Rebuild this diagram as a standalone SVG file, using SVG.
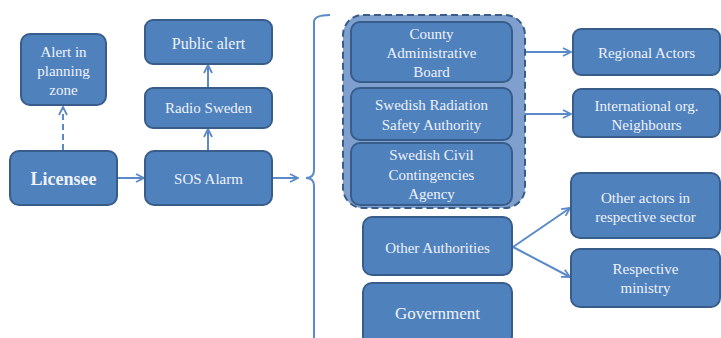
<svg xmlns="http://www.w3.org/2000/svg" width="721" height="338" viewBox="0 0 721 338">
<style>
.box{fill:#4f81bd;stroke:#385d8a;stroke-width:2}
.t{font-family:'Liberation Serif','Times New Roman','DejaVu Serif',serif;font-size:15px;fill:#eef2f9;text-anchor:middle;dominant-baseline:central}
.c{fill:none;stroke:#5b8ac8;stroke-width:2}
</style>
<defs>
<marker id="ah" viewBox="0 0 10 10" refX="9" refY="5" markerWidth="10" markerHeight="10" markerUnits="userSpaceOnUse" orient="auto">
<path d="M1,1 L9,5 L1,9" fill="none" stroke="#5b8ac8" stroke-width="1.8"/>
</marker>
</defs>
<rect width="721" height="338" fill="#fff"/>
<g id="connectors">
<line class="c" x1="63" y1="150" x2="63" y2="107" stroke-dasharray="6,4" marker-end="url(#ah)"/>
<line class="c" x1="117" y1="178" x2="144" y2="178" marker-end="url(#ah)"/>
<line class="c" x1="208" y1="151" x2="208" y2="129" marker-end="url(#ah)"/>
<line class="c" x1="208" y1="88" x2="208" y2="65" marker-end="url(#ah)"/>
<line class="c" x1="272" y1="178" x2="298" y2="178" marker-end="url(#ah)"/>
<path class="c" d="M330,15 Q314,15 314,22 L314,170 Q314,178 306,178 Q314,178 314,186 L314,338"/>
<line class="c" x1="512" y1="52" x2="571" y2="52" marker-end="url(#ah)"/>
<line class="c" x1="512" y1="114" x2="571" y2="114" marker-end="url(#ah)"/>
<line class="c" x1="513" y1="247" x2="570" y2="208" marker-end="url(#ah)"/>
<line class="c" x1="513" y1="247" x2="570" y2="277" marker-end="url(#ah)"/>
</g>
<g id="alert-zone"><rect class="box" x="21" y="34" width="85" height="71" rx="9"/>
<text class="t" x="63.5" y="52">Alert in</text><text class="t" x="63.5" y="71">planning</text><text class="t" x="63.5" y="90">zone</text></g>
<g id="public-alert"><rect class="box" x="145" y="20" width="127" height="44" rx="8"/>
<text class="t" x="208.5" y="43" style="font-size:16px">Public alert</text></g>
<g id="radio-sweden"><rect class="box" x="145" y="88" width="127" height="40" rx="8"/>
<text class="t" x="208.5" y="108">Radio Sweden</text></g>
<g id="licensee"><rect class="box" x="10" y="151" width="107" height="54" rx="9"/>
<text class="t" x="63.5" y="179" style="font-size:18px;font-weight:bold">Licensee</text></g>
<g id="sos-alarm"><rect class="box" x="145" y="151" width="127" height="54" rx="9"/>
<text class="t" x="208.5" y="179">SOS Alarm</text></g>
<g id="authority-group"><rect x="343" y="15" width="182" height="193" rx="20" fill="#7f9fcf" stroke="#385d8a" stroke-width="2" stroke-dasharray="7,4"/></g>
<g id="county"><rect class="box" x="351" y="22" width="161" height="60" rx="9"/>
<text class="t" x="431.5" y="34">County</text><text class="t" x="431.5" y="53">Administrative</text><text class="t" x="431.5" y="72">Board</text></g>
<g id="ssm"><rect class="box" x="351" y="88" width="161" height="52" rx="9"/>
<text class="t" x="431.5" y="105">Swedish Radiation</text><text class="t" x="431.5" y="125">Safety Authority</text></g>
<g id="msb"><rect class="box" x="351" y="143" width="161" height="62" rx="9"/>
<text class="t" x="431.5" y="155">Swedish Civil</text><text class="t" x="431.5" y="175">Contingencies</text><text class="t" x="431.5" y="194">Agency</text></g>
<g id="other-authorities"><rect class="box" x="363" y="217" width="149" height="58" rx="9"/>
<text class="t" x="437.5" y="248">Other Authorities</text></g>
<g id="government"><rect class="box" x="363" y="283" width="149" height="62" rx="9"/>
<text class="t" x="437.5" y="313" style="font-size:17px">Government</text></g>
<g id="regional-actors"><rect class="box" x="573" y="29" width="147" height="46" rx="8"/>
<text class="t" x="646.5" y="53">Regional Actors</text></g>
<g id="international"><rect class="box" x="573" y="89" width="147" height="48" rx="8"/>
<text class="t" x="646.5" y="106">International org.</text><text class="t" x="646.5" y="125">Neighbours</text></g>
<g id="other-actors"><rect class="box" x="571" y="173" width="149" height="65" rx="9"/>
<text class="t" x="645.5" y="198">Other actors in</text><text class="t" x="645.5" y="217">respective sector</text></g>
<g id="ministry"><rect class="box" x="571" y="249" width="149" height="58" rx="9"/>
<text class="t" x="645.5" y="288">ministry</text><text class="t" x="645.5" y="269">Respective</text></g>
</svg>
